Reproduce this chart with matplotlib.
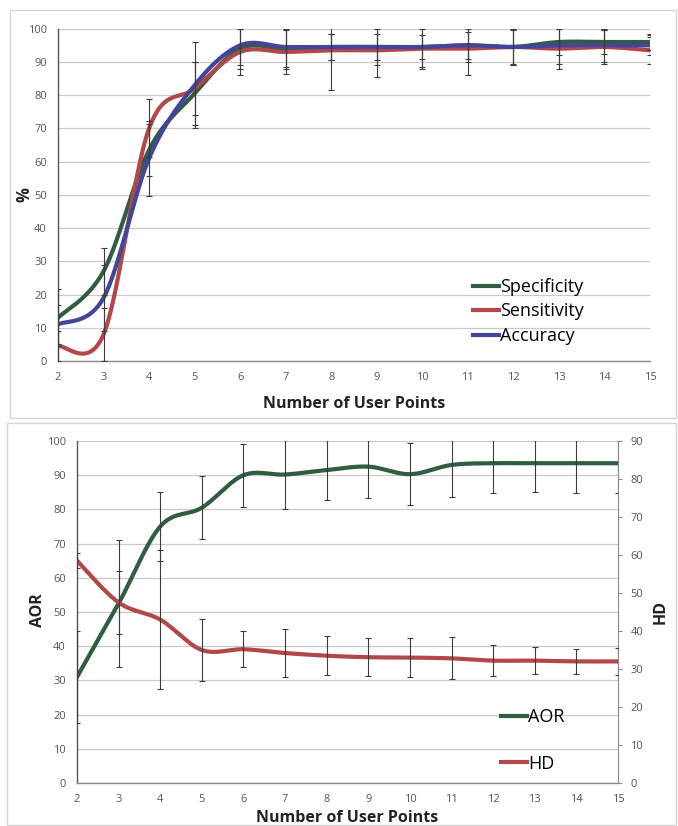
import numpy as np
import matplotlib
matplotlib.use("Agg")
import matplotlib.pyplot as plt
from matplotlib.patches import Rectangle

plt.rcParams['font.family'] = ['Open Sans', 'DejaVu Sans']

# ---- data -------------------------------------------------------------
points = [2, 3, 4, 5, 6, 7, 8, 9, 10, 11, 12, 13, 14, 15]
x_ticks = list(range(2, 16))

specificity = [13, 27, 63.5, 80.5, 94, 94, 94.5, 94.5, 94.5, 95, 94.5, 96, 96, 96]
specificity_err = [8.6, 7, 7.8, 9.4, 6, 6, 4, 4, 3.5, 4, 5.5, 4, 3.5, 2.5]
sensitivity = [4.5, 8, 70, 82, 93, 93, 93.5, 93.5, 94, 94, 94.5, 94, 94.5, 93.5]
sensitivity_err = [4.5, 8, 8.7, 8, 7, 6.5, 12, 8, 6, 8, 5.5, 6, 5, 4]
accuracy = [11, 19, 61, 83, 95, 94.5, 94.5, 94.5, 94.5, 95, 94.5, 95, 95, 95]
accuracy_err = [6, 10, 11.3, 13, 6, 6, 4, 5.5, 6, 5, 5, 5.5, 5, 3]

aor = [31, 52.5, 75, 80.5, 90, 90.2, 91.5, 92.5, 90.3, 93, 93.5, 93.5, 93.5, 93.5]
aor_err = [13.5, 18.5, 10, 9.2, 9.2, 10, 8.7, 9.3, 9, 9.5, 8.8, 8.5, 8.8, 8.8]
hd = [58.5, 47.5, 43, 35, 35.2, 34.2, 33.5, 33.1, 33, 32.8, 32.2, 32.2, 32, 32]
hd_err = [2, 8.2, 18.2, 8.1, 4.7, 6.2, 5.2, 5, 5.2, 5.5, 4.1, 3.5, 3.2, 3.5]

GREEN = '#2f5d40'
RED = '#b2474a'
BLUE = '#43449a'
GRID = '#c9c9c9'
TICK = '#555555'
ERR = '#3c3c3c'
TITLE = '#222222'

W, H = 678, 826


def smooth(x, y, n=30):
    """Bezier smoothing through every point (Catmull-Rom style)."""
    x = np.asarray(x, float)
    y = np.asarray(y, float)
    px = np.concatenate([[x[0]], x, [x[-1]]])
    py = np.concatenate([[y[0]], y, [y[-1]]])
    t = np.linspace(0, 1, n, endpoint=False)[:, None]
    out = []
    for i in range(len(x) - 1):
        p_prev = np.array([px[i], py[i]])
        p0 = np.array([px[i + 1], py[i + 1]])
        p1 = np.array([px[i + 2], py[i + 2]])
        p_next = np.array([px[i + 3], py[i + 3]])
        c1 = p0 + (p1 - p_prev) / 6
        c2 = p1 - (p_next - p0) / 6
        seg = ((1 - t) ** 3) * p0 + 3 * ((1 - t) ** 2) * t * c1 \
            + 3 * (1 - t) * t ** 2 * c2 + t ** 3 * p1
        out.append(seg)
    out.append(np.array([[x[-1], y[-1]]]))
    pts = np.vstack(out)
    return pts[:, 0], pts[:, 1]


def px_rect(l, t, r, b):
    return [l / W, 1 - b / H, (r - l) / W, (b - t) / H]


def style_axis(ax):
    ax.set_facecolor('none')
    ax.grid(axis='y', color=GRID, linewidth=0.9)
    ax.set_axisbelow(True)
    ax.tick_params(axis='both', length=0, labelsize=8, labelcolor=TICK)
    ax.tick_params(axis='y', pad=8)
    ax.tick_params(axis='x', pad=8)
    for s in ('top', 'right'):
        ax.spines[s].set_visible(False)
    ax.spines['left'].set_color('#555555')
    ax.spines['bottom'].set_color('#8a8a8a')
    ax.spines['left'].set_linewidth(1.0)
    ax.spines['bottom'].set_linewidth(1.0)


fig = plt.figure(figsize=(W / 100, H / 100), dpi=100)

# panel frames
for (l, t, r, b) in [(10, 10, 676, 418), (7, 423, 676, 825)]:
    fig.patches.append(Rectangle((l / W, 1 - b / H), (r - l) / W, (b - t) / H,
                                 transform=fig.transFigure, fill=False,
                                 edgecolor='#d4d4d4', linewidth=1.0))

lw = 3.0
ebar = dict(fmt='none', ecolor=ERR, elinewidth=0.8, capsize=2.5,
            capthick=0.8, zorder=4)

# ---- top panel: specificity / sensitivity / accuracy ------------------
ax1 = fig.add_axes(px_rect(58, 28.7, 650, 361))
style_axis(ax1)
for vals, col, name in [(specificity, GREEN, 'Specificity'),
                        (sensitivity, RED, 'Sensitivity'),
                        (accuracy, BLUE, 'Accuracy')]:
    sx, sy = smooth(points, vals)
    ax1.plot(sx, sy, color=col, linewidth=lw, label=name, zorder=3)
for vals, err in [(specificity, specificity_err), (sensitivity, sensitivity_err),
                  (accuracy, accuracy_err)]:
    ax1.errorbar(points, vals, yerr=err, **ebar)
ax1.set_xlim(2, 15)
ax1.set_ylim(0, 100)
ax1.set_xticks(x_ticks)
ax1.set_yticks(range(0, 101, 10))
ax1.set_xlabel('Number of User Points', fontsize=11.5, fontweight='bold',
               color=TITLE)
ax1.xaxis.set_label_coords(0.5, -0.105)
ax1.set_ylabel('%', fontsize=12, fontweight='bold', color=TITLE)
ax1.yaxis.set_label_coords(-0.042, 0.5)
leg1 = ax1.legend(loc='upper left', bbox_to_anchor=(473 / W, 1 - 278 / H),
                  bbox_transform=fig.transFigure, frameon=False, fontsize=13,
                  handlelength=1.45, handletextpad=0.05, labelspacing=0.36,
                  borderpad=0, borderaxespad=0)
for line in leg1.get_lines():
    line.set_linewidth(3.0)

# ---- bottom panel: AOR (left) and HD (right) --------------------------
ax2 = fig.add_axes(px_rect(77, 441, 618, 783))
style_axis(ax2)
ax3 = ax2.twinx()
ax3.set_facecolor('none')
for s in ('top', 'left', 'bottom'):
    ax3.spines[s].set_visible(False)
ax3.spines['right'].set_color('#8a8a8a')

ax_x, ay = smooth(points, aor)
l_aor, = ax2.plot(ax_x, ay, color=GREEN, linewidth=lw, label='AOR', zorder=3)
ax2.errorbar(points, aor, yerr=aor_err, **ebar)
hx, hy = smooth(points, hd)
l_hd, = ax3.plot(hx, hy, color=RED, linewidth=lw, label='HD', zorder=3)
ax3.errorbar(points, hd, yerr=hd_err, **ebar)

ax2.set_xlim(2, 15)
ax2.set_ylim(0, 100)
ax2.set_xticks(x_ticks)
ax2.set_yticks(range(0, 101, 10))
ax3.set_ylim(0, 90)
ax3.set_yticks(range(0, 91, 10))
ax3.tick_params(axis='y', length=3, color='#8a8a8a', labelsize=8,
                labelcolor=TICK, pad=6)
ax2.set_xlabel('Number of User Points', fontsize=11.5, fontweight='bold',
               color=TITLE)
ax2.xaxis.set_label_coords(0.5, -0.078)
ax2.set_ylabel('AOR', fontsize=11.5, fontweight='bold', color=TITLE)
ax2.yaxis.set_label_coords(-0.058, 0.505)
ax3.set_ylabel('HD', fontsize=11.5, fontweight='bold', color=TITLE)
ax3.yaxis.set_label_coords(1.064, 0.5)

leg2 = ax3.legend(handles=[l_aor, l_hd], loc='upper left',
                  bbox_to_anchor=(501 / W, 1 - 708 / H),
                  bbox_transform=fig.transFigure, frameon=False, fontsize=13,
                  handlelength=1.45, handletextpad=0.05, labelspacing=1.58,
                  borderpad=0, borderaxespad=0)

fig.savefig('out.png', dpi=100)
